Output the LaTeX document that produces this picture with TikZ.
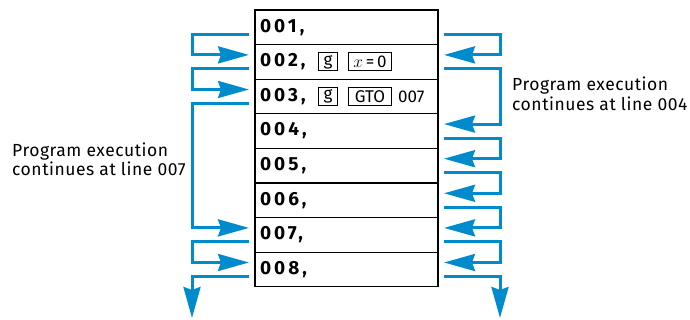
\documentclass[tikz,border=0pt]{standalone}
\usepackage{fontspec}
\setmainfont{Fira Sans}
\newfontfamily\rowfont[LetterSpace=16]{Fira Sans}
\newfontfamily\notefont[LetterSpace=3]{Fira Sans}
\usepackage{tikz}
\usetikzlibrary{arrows.meta, positioning, calc}
\definecolor{flowblue}{RGB}{0,140,204}

\tikzset{
  row/.style={draw, line width=1.2pt, outer ysep=0pt, outer xsep=6pt, minimum width=183pt, minimum height=34.6pt, inner xsep=5pt, text width=173pt, align=left, font=\rowfont\bfseries\fontsize{19}{21}\selectfont},
  key/.style={draw, line width=1pt, inner sep=0pt, minimum height=18pt, font=\fontsize{17}{19}\selectfont},
  flow/.style={flowblue, line width=3pt, -{Stealth[length=31pt, width=17pt, inset=3pt]}},
  note/.style={align=left, inner sep=0pt, font=\notefont\fontsize{17.5}{19.5}\selectfont}
}

\begin{document}
\begin{tikzpicture}[x=1pt, y=1pt]
  \useasboundingbox (0,0) rectangle (690,320);

  \node [row] (r1) at (346.5,292.7) {001,};
  \node [row, below=0pt of r1] (r2) {002,};
  \node [row, below=0pt of r2] (r3) {003,};
  \node [row, below=0pt of r3] (r4) {004,};
  \node [row, below=0pt of r4] (r5) {005,};
  \node [row, below=0pt of r5] (r6) {006,};
  \node [row, below=0pt of r6] (r7) {007,};
  \node [row, below=0pt of r7] (r8) {008,};

  \node [key, minimum width=19pt, anchor=west] (g2) at ([xshift=69pt]r2.west) {g};
  \node [key, minimum width=43pt, right=10pt of g2] (xzero) {$x$\,=\,0};
  \node [key, minimum width=19pt, anchor=west] (g3) at ([xshift=69pt]r3.west) {g};
  \node [key, minimum width=43pt, right=10pt of g3] (gto) {GTO};
  \node [inner sep=0, right=6pt of gto, font=\fontsize{17}{19}\selectfont] (addr) {007};

  \node [note, anchor=west] (noteL) at (12,160.5) {Program execution\\continues at line 007};
  \node [note, anchor=west] (noteR) at (512,226) {Program execution\\continues at line 004};

  \coordinate (lend) at (192,2);
  \coordinate (rend) at (500,2);

  \draw [flow] ([yshift=-7pt]r1.west) -- ++(-57,0) |- ([yshift=7pt]r2.west);
  \draw [flow] ([yshift=-7pt]r2.west) -- ++(-57,0) |- ([yshift=7pt]r3.west);
  \draw [flow] ([yshift=-7pt]r3.west) -- ++(-57,0) |- ([yshift=7pt]r7.west);
  \draw [flow] ([yshift=-7pt]r7.west) -- ++(-57,0) |- ([yshift=7pt]r8.west);
  \draw [flow] ([yshift=-7pt]r8.west) -| (lend);

  \draw [flow] ([yshift=-7pt]r1.east) -- ++(56,0) |- ([yshift=7pt]r2.east);
  \draw [flow] ([yshift=-7pt]r2.east) -- ++(56,0) |- ([yshift=7pt]r4.east);
  \draw [flow] ([yshift=-7pt]r4.east) -- ++(56,0) |- ([yshift=7pt]r5.east);
  \draw [flow] ([yshift=-7pt]r5.east) -- ++(56,0) |- ([yshift=7pt]r6.east);
  \draw [flow] ([yshift=-7pt]r6.east) -- ++(56,0) |- ([yshift=7pt]r7.east);
  \draw [flow] ([yshift=-7pt]r7.east) -- ++(56,0) |- ([yshift=7pt]r8.east);
  \draw [flow] ([yshift=-7pt]r8.east) -| (rend);
\end{tikzpicture}
\end{document}
